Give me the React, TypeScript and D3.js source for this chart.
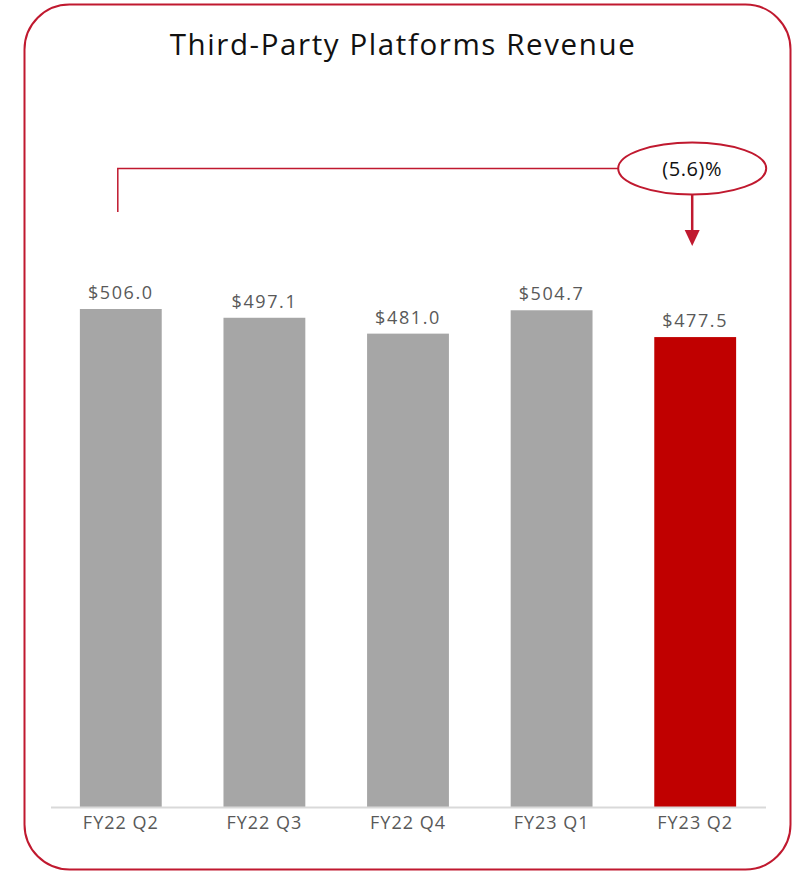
import React from "react";
import * as d3 from "d3";

const categories = ["FY22 Q2", "FY22 Q3", "FY22 Q4", "FY23 Q1", "FY23 Q2"];
const values = [506.0, 497.1, 481.0, 504.7, 477.5];
const valueLabels = ["$506.0", "$497.1", "$481.0", "$504.7", "$477.5"];
const highlight = [false, false, false, false, true];
const changeLabel = "(5.6)%";
const title = "Third-Party Platforms Revenue";

const W = 797;
const H = 872;
const FONT = "'Open Sans', Lato, sans-serif";
const RED = "#c0192f";

export default function App() {
  const x = d3
    .scaleBand<string>()
    .domain(categories)
    .range([49, 767])
    .paddingInner(0.43)
    .paddingOuter(0.215);
  const y = d3.scaleLinear().domain([0, 506]).range([807.5, 309]);
  const bw = x.bandwidth();
  const first = categories[0];
  const last = categories[categories.length - 1];
  const bx0 = (x(first) as number) + bw / 2 - 3;
  const bx1 = (x(last) as number) + bw / 2 - 3;
  const bracketY = 168.5;
  const ellRx = 74;
  const ellRy = 26;

  return (
    <div style={{ position: "fixed", left: 0, top: 0 }}>
      <svg width={W} height={H} style={{ display: "block", background: "#fff" }}>
        <rect x={24.5} y={4.5} width={766} height={865} rx={45} ry={45} fill="#fff" stroke={RED} strokeWidth={2} />
        <text x={403} y={55} textAnchor="middle" fontFamily={FONT} fontSize={29.5} letterSpacing={1.6} fill="#111">
          {title}
        </text>
        {categories.map((c, i) => (
          <g key={c}>
            <rect
              x={x(c)}
              y={y(values[i])}
              width={bw}
              height={y(0) - y(values[i])}
              fill={highlight[i] ? "#c00000" : "#a6a6a6"}
            />
            <text
              x={(x(c) as number) + bw / 2}
              y={y(values[i]) - 10}
              textAnchor="middle"
              fontFamily={FONT}
              fontSize={18}
              letterSpacing={1.6}
              fill="#595959"
            >
              {valueLabels[i]}
            </text>
            <text
              x={(x(c) as number) + bw / 2}
              y={829}
              textAnchor="middle"
              fontFamily={FONT}
              fontSize={18}
              letterSpacing={1}
              fill="#595959"
            >
              {c}
            </text>
          </g>
        ))}
        <line x1={51} x2={766} y1={807.5} y2={807.5} stroke="#d9d9d9" strokeWidth={2} />
        {/* bracket annotation */}
        <path
          d={`M${bx0},212 L${bx0},${bracketY} L${bx1 - ellRx},${bracketY}`}
          fill="none"
          stroke={RED}
          strokeWidth={1.5}
        />
        <ellipse cx={bx1} cy={bracketY} rx={ellRx} ry={ellRy} fill="#fff" stroke={RED} strokeWidth={2} />
        <text x={bx1} y={176} textAnchor="middle" fontFamily={FONT} fontSize={20} letterSpacing={0.6} fill="#111">
          {changeLabel}
        </text>
        <line x1={bx1} x2={bx1} y1={bracketY + ellRy} y2={232} stroke={RED} strokeWidth={2.5} />
        <path d={`M${bx1 - 7.5},230 L${bx1 + 7.5},230 L${bx1},246 Z`} fill={RED} />
      </svg>
    </div>
  );
}
